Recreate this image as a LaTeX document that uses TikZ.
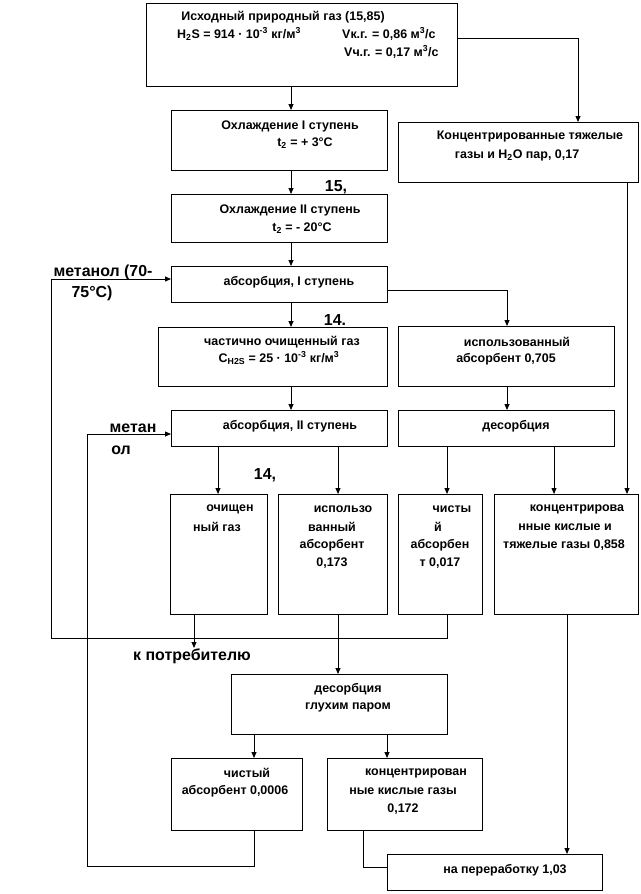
\documentclass[tikz,border=0pt]{standalone}
\usepackage{fontspec}
\setmainfont{Liberation Sans}
\usetikzlibrary{arrows.meta}
\newcommand\mkbox[5]{\node[box,minimum width={(#4-#2)*1bp},minimum height={(#5-#3)*1bp}] (#1) at ({(#2+#4)/2},{(#3+#5)/2}) {};}
\begin{document}
\begin{tikzpicture}[x=1bp,y=-1bp,
  box/.style={draw,line width=0.8bp,inner sep=0,outer sep=0},
  txt/.style={font=\bfseries\fontsize{12.5}{14}\selectfont,inner sep=0,anchor=center},
  big/.style={font=\bfseries\fontsize{16}{18}\selectfont,inner sep=0,anchor=center},
  ln/.style={line width=0.8bp},
  arr/.style={ln,-{Triangle[length=6bp,width=5bp]}}]
\useasboundingbox (0,0) rectangle (641,894);
% boxes
\mkbox{top}{146}{3}{457}{86}
\mkbox{heavy}{398}{122}{638}{182}
\mkbox{ohl1}{171}{110}{387}{170}
\mkbox{ohl2}{171}{194}{387}{242}
\mkbox{abs1}{171}{266}{387}{302}
\mkbox{part}{158}{327}{387}{386}
\mkbox{used1}{398}{326}{614}{386}
\mkbox{abs2}{171}{410}{387}{446}
\mkbox{des1}{398}{410}{614}{446}
\mkbox{clean}{170}{494}{267}{614}
\mkbox{used2}{278}{494}{387}{614}
\mkbox{pure1}{398}{494}{482}{614}
\mkbox{acid1}{494}{494}{638}{614}
\mkbox{des2}{231}{674}{447}{734}
\mkbox{pure2}{171}{758}{302}{830}
\mkbox{acid2}{327}{758}{482}{830}
\mkbox{final}{387}{854}{602}{890}
% column / row helpers
\coordinate (c291) at (291,0);
\coordinate (c578) at (578,0);
\coordinate (c507) at (507,0);
\coordinate (c218) at (218,0);
\coordinate (c338) at (338,0);
\coordinate (c447) at (447,0);
\coordinate (c554) at (554,0);
\coordinate (c627) at (627,0);
\coordinate (c194) at (194,0);
\coordinate (c567) at (567,0);
\coordinate (c254) at (254,0);
\coordinate (c387) at (387,0);
\coordinate (c363) at (363,0);
\coordinate (r38) at (0,38);
\coordinate (r290) at (0,290);
\coordinate (r279) at (0,279);
\coordinate (r434) at (0,434);
\coordinate (r867) at (0,867);
\coordinate (cons) at (194,648);
\coordinate (loop1) at (51,638);
\coordinate (loop2) at (87,866);
% connectors
\draw[arr] (top.south -| c291) -- (ohl1.north -| c291);
\draw[arr] (top.east |- r38) -| (heavy.north -| c578);
\draw[arr] (ohl1.south -| c291) -- (ohl2.north -| c291);
\draw[arr] (ohl2.south -| c291) -- (abs1.north -| c291);
\draw[arr] (abs1.south -| c291) -- (part.north -| c291);
\draw[arr] (abs1.east |- r290) -| (used1.north -| c507);
\draw[arr] (part.south -| c291) -- (abs2.north -| c291);
\draw[arr] (used1.south -| c507) -- (des1.north -| c507);
\draw[arr] (abs2.south -| c218) -- (clean.north -| c218);
\draw[arr] (abs2.south -| c338) -- (used2.north -| c338);
\draw[arr] (des1.south -| c447) -- (pure1.north -| c447);
\draw[arr] (des1.south -| c554) -- (acid1.north -| c554);
\draw[arr] (heavy.south -| c627) -- (acid1.north -| c627);
\draw[arr] (clean.south -| c194) -- (cons);
\draw[arr] (pure1.south -| c447) |- (loop1) |- (abs1.west |- r279);
\draw[arr] (used2.south -| c338) -- (des2.north -| c338);
\draw[arr] (acid1.south -| c567) -- (final.north -| c567);
\draw[arr] (des2.south -| c254) -- (pure2.north -| c254);
\draw[arr] (des2.south -| c387) -- (acid2.north -| c387);
\draw[arr] (pure2.south -| c254) |- (loop2) |- (abs2.west |- r434);
\draw[ln] (acid2.south -| c363) |- (final.west |- r867);
% texts
\node[txt] (t1) at (283,17) {Исходный природный газ (15,85)};
\node[txt,anchor=west] (t2) at (177,34) {H\textsubscript{2}S = 914 · 10\textsuperscript{-3} кг/м\textsuperscript{3}};
\node[txt,anchor=west] (t3) at (342,34) {Vк.г. = 0,86 м\textsuperscript{3}/с};
\node[txt,anchor=west] (t4) at (344,52) {Vч.г. = 0,17 м\textsuperscript{3}/с};
\node[txt] (t5) at (290,126) {Охлаждение I ступень};
\node[txt] (t6) at (305,143) {t\textsubscript{2} = + 3°C};
\node[txt] (t7) at (290,210) {Охлаждение II ступень};
\node[txt] (t8) at (302,228) {t\textsubscript{2} = - 20°C};
\node[big] (n15) at (336,187) {15,};
\node[txt] (t9) at (530,137) {Концентрированные тяжелые};
\node[txt] (t10) at (517,155) {газы и H\textsubscript{2}O пар, 0,17};
\node[big] (m1) at (103,272) {метанол (70-};
\node[big] (m2) at (92,293) {75°C)};
\node[txt] (t11) at (289,282) {абсорбция, I ступень};
\node[big] (n14a) at (335,320) {14.};
\node[txt] (t12) at (282,342) {частично очищенный газ};
\node[txt] (t13) at (279,358) {C\textsubscript{H2S} = 25 · 10\textsuperscript{-3} кг/м\textsuperscript{3}};
\node[txt] (t14) at (517,342) {использованный};
\node[txt] (t15) at (506,359) {абсорбент 0,705};
\node[big] (m3) at (133,428) {метан};
\node[big] (m4) at (121,450) {ол};
\node[txt] (t16) at (290,426) {абсорбция, II ступень};
\node[txt] (t17) at (516,426) {десорбция};
\node[big] (n14b) at (265,475) {14,};
\node[txt] (t18) at (230,509) {очищен};
\node[txt] (t19) at (217,527) {ный газ};
\node[txt] (t20) at (343,509) {использо};
\node[txt] (t21) at (332,527) {ванный};
\node[txt] (t22) at (332,545) {абсорбент};
\node[txt] (t23) at (332,563) {0,173};
\node[txt] (t24) at (452,509) {чисты};
\node[txt] (t25) at (438,527) {й};
\node[txt] (t26) at (440,545) {абсорбен};
\node[txt] (t27) at (440,563) {т 0,017};
\node[txt] (t28) at (577,509) {концентрирова};
\node[txt] (t29) at (565,527) {нные кислые и};
\node[txt] (t30) at (564,545) {тяжелые газы 0,858};
\node[big] (t31) at (192,656) {к потребителю};
\node[txt] (t32) at (348,689) {десорбция};
\node[txt] (t33) at (348,707) {глухим паром};
\node[txt] (t34) at (247,773) {чистый};
\node[txt] (t35) at (235,791) {абсорбент 0,0006};
\node[txt] (t36) at (416,773) {концентрирован};
\node[txt] (t37) at (403,791) {ные кислые газы};
\node[txt] (t38) at (403,809) {0,172};
\node[txt] (t39) at (505,870) {на переработку 1,03};
\end{tikzpicture}
\end{document}
